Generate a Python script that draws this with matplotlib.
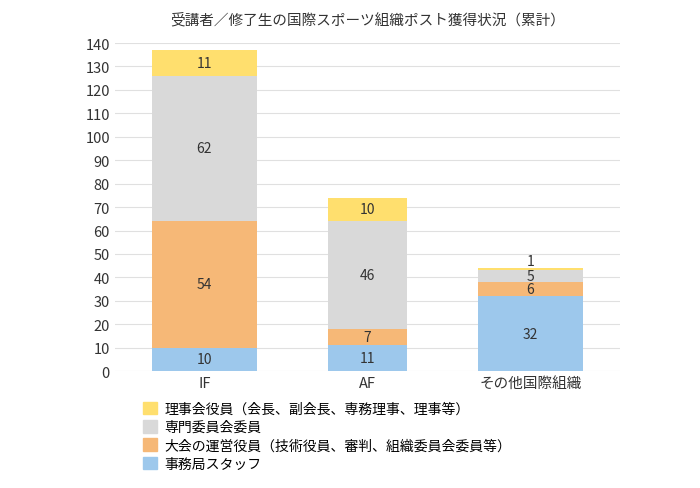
import matplotlib
matplotlib.use("Agg")
import matplotlib.pyplot as plt
from matplotlib.patches import Patch

plt.rcParams["font.family"] = "Noto Sans CJK JP"

categories = ["IF", "AF", "その他国際組織"]
staff = [10, 11, 32]
event = [54, 7, 6]
committee = [62, 46, 5]
board = [11, 10, 1]
series_names = ["理事会役員（会長、副会長、専務理事、理事等）", "専門委員会委員",
                "大会の運営役員（技術役員、審判、組織委員会委員等）", "事務局スタッフ"]
colors = ["#9DC8EC", "#F6B877", "#D9D9D9", "#FFDF6E"]
widths = [0.64, 0.48, 0.64]

fig = plt.figure(figsize=(7, 4.89), dpi=100)
ax = fig.add_axes([0.164, 0.239, 0.722, 0.671])
x = [0, 1, 2]
bottom = [0, 0, 0]
for vals, c in zip([staff, event, committee, board], colors):
    ax.bar(x, vals, width=widths, bottom=bottom, color=c, zorder=2)
    for i, v in enumerate(vals):
        if v >= 3:
            y, va = bottom[i] + v / 2, "center"
        else:
            y, va = bottom[i] + v + 0.2, "bottom"
        ax.text(x[i], y, str(v), ha="center", va=va, fontsize=10, color="#333333", zorder=3)
    bottom = [b + v for b, v in zip(bottom, vals)]

ax.set_ylim(0, 140)
ax.set_xlim(-0.55, 2.55)
ax.set_yticks(range(0, 141, 10))
ax.set_xticks(x)
ax.set_xticklabels(categories, fontsize=10.5)
ax.tick_params(length=0, labelsize=10.5, colors="#333333")
ax.grid(axis="y", color="#E0E0E0", zorder=0)
for s in ax.spines.values():
    s.set_visible(False)
ax.set_title("受講者／修了生の国際スポーツ組織ポスト獲得状況（累計）", fontsize=10.5, pad=14, color="#333333")

handles = [Patch(color=colors[3]), Patch(color=colors[2]), Patch(color=colors[1]), Patch(color=colors[0])]
fig.legend(handles, series_names, loc="upper left", bbox_to_anchor=(0.195, 0.19), frameon=False,
           fontsize=10, handlelength=1.0, handleheight=1.0, labelspacing=0.3, handletextpad=0.5,
           borderpad=0)
fig.savefig("out.png", dpi=100)
